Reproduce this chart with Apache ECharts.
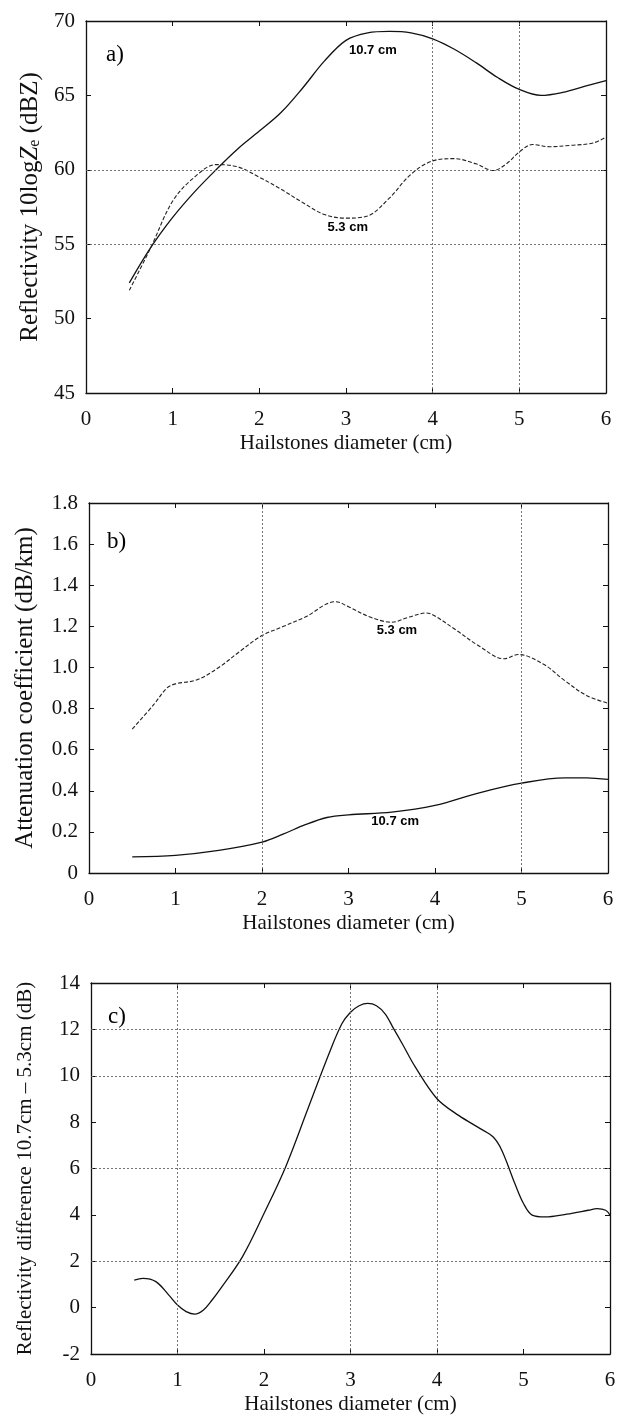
<!DOCTYPE html>
<html><head><meta charset="utf-8">
<script src="https://cdn.jsdelivr.net/npm/echarts@6/dist/echarts.min.js"></script>
<style>html,body{margin:0;padding:0;background:#fff}#c{width:621px;height:1416px}</style>
</head><body><div id="c"></div>
<script>
// ---------- data ----------
const xTicks = [0, 1, 2, 3, 4, 5, 6];

// Panel a: reflectivity (dBZ)
const aX107 = [0.5,0.75,1.0,1.25,1.5,1.75,2.0,2.25,2.5,2.75,3.0,3.25,3.5,3.75,4.0,4.25,4.5,4.75,5.0,5.25,5.5,5.75,6.0];
const aY107 = [52.4,54.8,56.8,58.5,60.0,61.4,62.6,63.85,65.5,67.3,68.7,69.2,69.3,69.2,68.8,68.1,67.2,66.2,65.4,65.0,65.2,65.6,66.0];
const aX53  = [0.5,0.75,1.0,1.25,1.5,1.75,2.0,2.25,2.5,2.75,3.0,3.25,3.5,3.75,4.0,4.25,4.5,4.7,4.85,5.0,5.15,5.35,5.6,5.85,6.0];
const aY53  = [51.9,54.8,57.9,59.5,60.35,60.2,59.5,58.7,57.8,57.0,56.75,56.9,58.1,59.7,60.6,60.75,60.4,59.95,60.4,61.2,61.7,61.55,61.65,61.8,62.2];
const aGridX = [4, 5];
const aGridY = [55, 60];
const aNotes = [[3.31, 68.05, '10.7 cm'], [3.02, 56.1, '5.3 cm']];
const aPanel = [[0.335, 67.7, 'a)']];

// Panel b: attenuation (dB/km)
const bX53  = [0.5,0.75,0.9,1.0,1.25,1.5,1.75,2.0,2.25,2.5,2.85,3.0,3.25,3.5,3.7,3.9,4.0,4.25,4.5,4.8,4.96,5.25,5.5,5.75,6.0];
const bY53  = [0.70,0.82,0.90,0.92,0.94,1.00,1.08,1.155,1.20,1.245,1.32,1.295,1.245,1.22,1.245,1.265,1.25,1.18,1.107,1.042,1.063,1.017,0.936,0.864,0.826];
const bX107 = [0.5,1.0,1.5,2.0,2.25,2.5,2.75,3.0,3.5,4.0,4.5,5.0,5.5,5.75,6.0];
const bY107 = [0.078,0.086,0.11,0.15,0.19,0.235,0.27,0.283,0.296,0.329,0.389,0.437,0.463,0.463,0.455];
const bGridX = [2, 5];
const bGridY = [];
const bNotes = [[3.56, 1.18, '5.3 cm'], [3.54, 0.25, '10.7 cm']];
const bPanel = [[0.32, 1.61, 'b)']];

// Panel c: reflectivity difference (dB)
const cX = [0.5,0.6,0.75,0.9,1.0,1.1,1.2,1.3,1.4,1.5,1.75,2.0,2.25,2.5,2.75,2.9,3.0,3.1,3.2,3.3,3.4,3.5,3.6,3.75,4.0,4.25,4.5,4.65,4.75,4.9,5.0,5.1,5.25,5.5,5.75,5.85,5.95,6.0];
const cY = [1.19,1.26,1.12,0.54,0.11,-0.17,-0.28,-0.10,0.33,0.83,2.19,4.06,6.07,8.5,10.94,12.24,12.74,13.02,13.12,13.02,12.67,12.02,11.37,10.37,9.01,8.29,7.72,7.36,6.78,5.35,4.49,3.99,3.91,4.03,4.2,4.27,4.2,3.99];
const cGridX = [1, 3, 4];
const cGridY = [2, 6, 10, 12];
const cNotes = [];
const cPanel = [[0.30, 12.54, 'c)']];

const xName = 'Hailstones diameter (cm)';
const yNameA = '{n|Reflectivity 10log}{i|Z}{s|e}{n| (dBZ)}';
const yNameB = 'Attenuation coefficient (dB/km)';
const yNameC = 'Reflectivity difference 10.7cm \u2013 5.3cm (dB)';

// ---------- chart ----------
const SERIF = 'Liberation Serif';
const SANS = 'Liberation Sans';
const INK = '#111';
const zip = (xs, ys) => xs.map((x, i) => [x, ys[i]]);

const grids = [
  {left: 86, right: 15, top: 21, bottom: 1416 - 393},
  {left: 89, right: 13, top: 503, bottom: 1416 - 873},
  {left: 91, right: 11, top: 983, bottom: 1416 - 1355}
];
const yCfg = [
  {min: 45, max: 70, interval: 5, name: yNameA, gap: 31, size: 25, fmt: v => String(v)},
  {min: 0, max: 1.8, interval: 0.2, name: yNameB, gap: 51, size: 25, fmt: v => v === 0 ? '0' : v.toFixed(1)},
  {min: -2, max: 14, interval: 2, name: yNameC, gap: 55, size: 21, fmt: v => String(v)}
];

const xAxis = [], yAxis = [], series = [];
const tickCommon = {show: true, inside: true, length: 5, lineStyle: {color: INK, width: 1}};
const lineCommon = {show: true, onZero: false, lineStyle: {color: INK, width: 1.3}};

grids.forEach((g, i) => {
  xAxis.push({
    gridIndex: i, type: 'value', min: 0, max: 6, interval: 1, position: 'bottom',
    name: xName, nameLocation: 'middle', nameGap: 40,
    nameTextStyle: {fontFamily: SERIF, fontSize: 21, color: INK},
    axisLine: lineCommon, axisTick: tickCommon, splitLine: {show: false},
    axisLabel: {fontFamily: SERIF, fontSize: 21, color: INK, margin: 16}
  });
  xAxis.push({
    gridIndex: i, type: 'value', min: 0, max: 6, interval: 1, position: 'top',
    axisLine: lineCommon, axisTick: tickCommon, splitLine: {show: false}, axisLabel: {show: false}
  });
  const c = yCfg[i];
  yAxis.push({
    gridIndex: i, type: 'value', min: c.min, max: c.max, interval: c.interval, position: 'left',
    name: c.name, nameLocation: 'middle', nameGap: c.gap, nameRotate: 90,
    nameTextStyle: {fontFamily: SERIF, fontSize: c.size, color: INK,
      rich: {
        n: {fontFamily: SERIF, fontSize: c.size, color: INK},
        i: {fontFamily: SERIF, fontSize: c.size, color: INK, fontStyle: 'italic'},
        s: {fontFamily: SERIF, fontSize: 16, color: INK, padding: [9, 0, 0, 0]}
      }},
    axisLine: lineCommon, axisTick: tickCommon, splitLine: {show: false},
    axisLabel: {fontFamily: SERIF, fontSize: 21, color: INK, margin: 11, formatter: c.fmt}
  });
  yAxis.push({
    gridIndex: i, type: 'value', min: c.min, max: c.max, interval: c.interval, position: 'right',
    axisLine: lineCommon, axisTick: tickCommon, splitLine: {show: false}, axisLabel: {show: false}
  });
});

function gridMarks(gx, gy) {
  return {
    silent: true, symbol: 'none', label: {show: false}, animation: false,
    lineStyle: {type: [2, 2], color: '#666', width: 0.9},
    data: gx.map(v => ({xAxis: v})).concat(gy.map(v => ({yAxis: v})))
  };
}
function curve(i, data, dashed, marks) {
  const s = {
    type: 'line', xAxisIndex: i * 2, yAxisIndex: i * 2, data: data, smooth: 0.35,
    showSymbol: false, symbol: 'none', silent: true,
    lineStyle: {color: dashed ? '#222' : INK, width: dashed ? 1.1 : 1.3, type: dashed ? [4, 2] : 'solid'}
  };
  if (marks) s.markLine = marks;
  return s;
}
function notes(i, arr, font, size, weight) {
  return {
    type: 'scatter', xAxisIndex: i * 2, yAxisIndex: i * 2, symbolSize: 1, silent: true,
    itemStyle: {opacity: 0},
    data: arr.map(a => ({value: [a[0], a[1]], name: a[2]})),
    label: {
      show: true, position: 'inside', formatter: p => p.name, opacity: 1,
      fontFamily: font, fontSize: size, fontWeight: weight, color: '#000'
    }
  };
}

series.push(curve(0, zip(aX107, aY107), false, gridMarks(aGridX, aGridY)));
series.push(curve(0, zip(aX53, aY53), true));
series.push(curve(1, zip(bX53, bY53), true, gridMarks(bGridX, bGridY)));
series.push(curve(1, zip(bX107, bY107), false));
series.push(curve(2, zip(cX, cY), false, gridMarks(cGridX, cGridY)));

[[aNotes, aPanel], [bNotes, bPanel], [cNotes, cPanel]].forEach((pair, i) => {
  series.push(notes(i, pair[0], SANS, 13, 'bold'));
  series.push(notes(i, pair[1], SERIF, 23, 'normal'));
});

const chart = echarts.init(document.getElementById('c'), null, {renderer: 'canvas'});
chart.setOption({
  animation: false, backgroundColor: '#fff',
  grid: grids, xAxis: xAxis, yAxis: yAxis, series: series
});
</script></body></html>
